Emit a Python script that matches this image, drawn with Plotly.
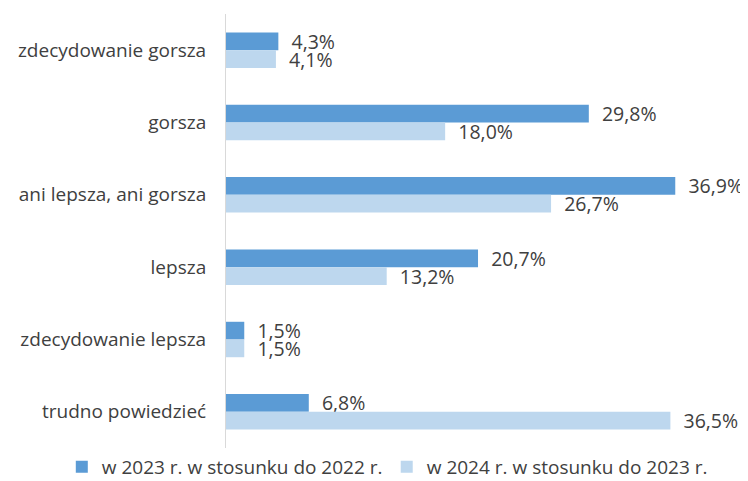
import plotly.graph_objects as go

categories = ["zdecydowanie gorsza", "gorsza", "ani lepsza, ani gorsza", "lepsza",
              "zdecydowanie lepsza", "trudno powiedzieć"]
series_names = ["w 2023 r. w stosunku do 2022 r.", "w 2024 r. w stosunku do 2023 r."]
values_2023 = [4.3, 29.8, 36.9, 20.7, 1.5, 6.8]
values_2024 = [4.1, 18.0, 26.7, 13.2, 1.5, 36.5]
colors = ["#5B9BD5", "#BDD7EE"]

def fmt(v):
    return "\u00a0\u00a0" + f"{v:.1f}%".replace(".", ",")

FONT = "Open Sans, sans-serif"
TXT = "#404040"

fig = go.Figure()
legends = ["legend", "legend2"]
for name, vals, col, lg in zip(series_names, [values_2023, values_2024], colors, legends):
    fig.add_trace(go.Bar(
        y=categories, x=vals, orientation="h", name=name, legend=lg,
        marker=dict(color=col, line=dict(width=0)),
        text=[fmt(v) for v in vals], textposition="outside", constraintext="none",
        textfont=dict(size=19.5, color=TXT, family=FONT), cliponaxis=False,
    ))

legend_common = dict(orientation="h", xref="container", xanchor="left",
                     yref="container", y=0.0296, yanchor="middle",
                     font=dict(size=19, color=TXT, family=FONT), itemwidth=30)

fig.update_layout(
    width=740, height=473,
    barmode="group", bargap=0.51, bargroupgap=0,
    plot_bgcolor="white", paper_bgcolor="white",
    font=dict(family=FONT, size=16, color=TXT),
    margin=dict(l=218, r=35, t=6, b=33, autoexpand=False),
    xaxis=dict(range=[0, 40], visible=False),
    yaxis=dict(autorange="reversed", showline=True, linecolor="#D9D9D9", linewidth=1,
               ticks="", showgrid=False, automargin=False, ticklabelstandoff=15,
               tickfont=dict(size=19, color=TXT, family=FONT)),
    legend=dict(x=0.0727, **legend_common),
    legend2=dict(x=0.5118, **legend_common),
    showlegend=True,
)

fig.write_html("out.html")
